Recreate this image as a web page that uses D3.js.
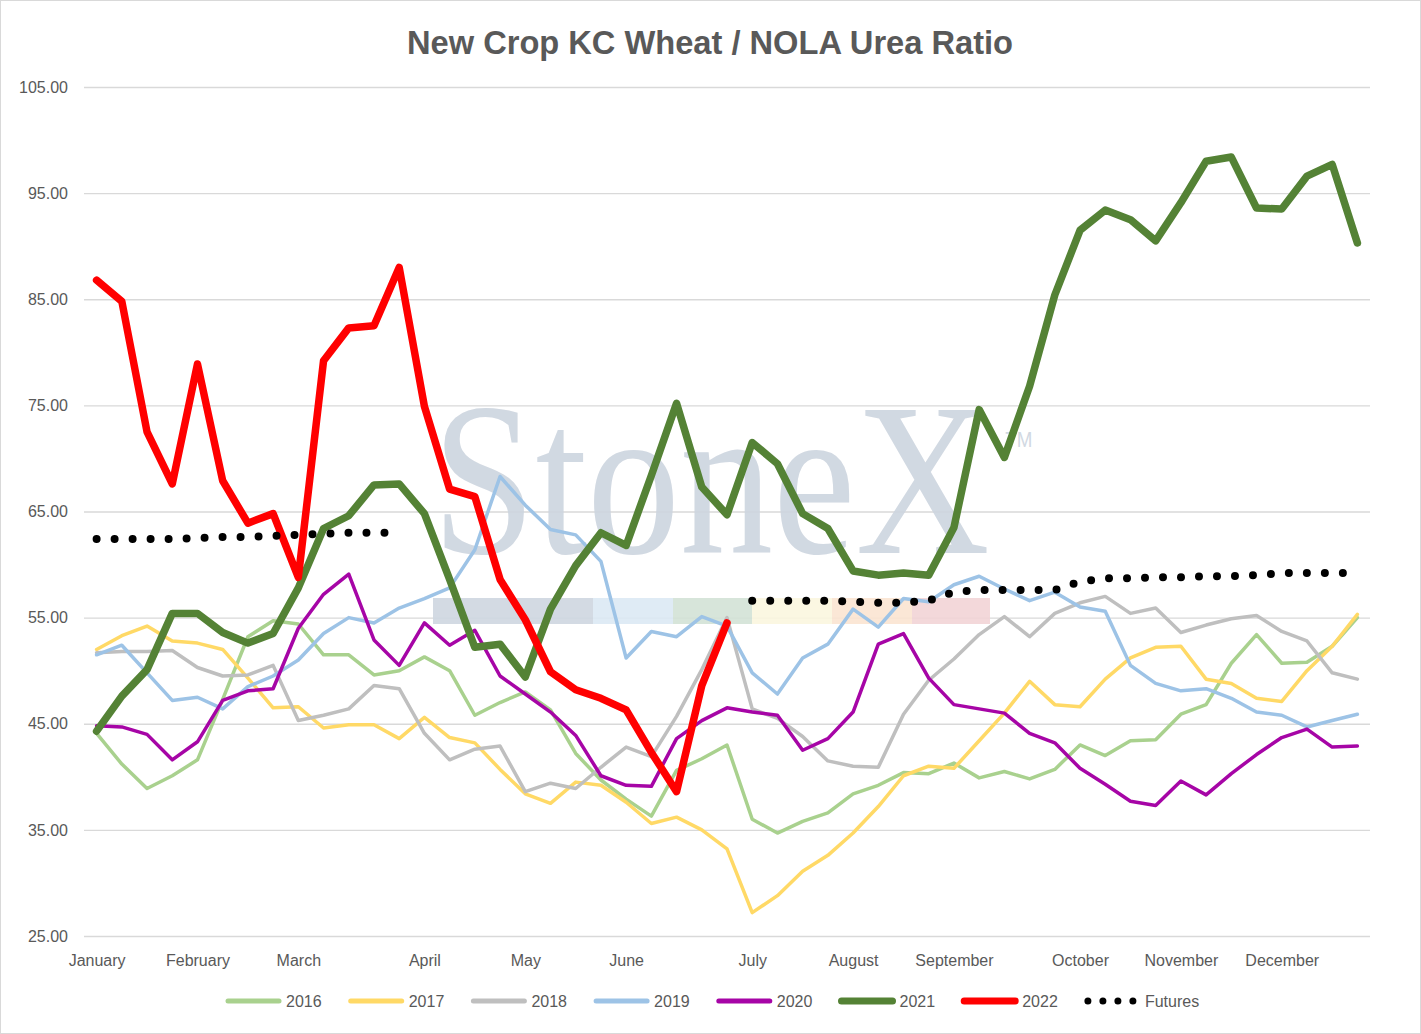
<!DOCTYPE html>
<html>
<head>
<meta charset="utf-8">
<script src="https://cdn.jsdelivr.net/npm/d3@7/dist/d3.min.js"></script>
<style>
  html, body { margin: 0; padding: 0; background: #fff; }
  svg { display: block; }
</style>
</head>
<body>
<svg id="chart" width="1421" height="1034"></svg>
<script>
// ---------- DATA ----------
const weekLabels = [
  "January","","","","February","","","","March","","","","","April","","","",
  "May","","","","June","","","","","July","","","","August","","","",
  "September","","","","","October","","","","November","","","","December","","",""
];

const s2016 = [44.1,41.2,38.9,40.1,41.6,47.3,53.2,54.7,54.4,51.5,51.5,49.6,50.0,51.3,50.0,45.8,47.0,48.0,46.3,42.2,39.7,37.9,36.3,40.6,41.7,43.0,36.0,34.7,35.8,36.6,38.4,39.2,40.4,40.3,41.3,39.9,40.5,39.8,40.7,43.0,42.0,43.4,43.5,45.9,46.8,50.7,53.4,50.7,50.8,52.3,55.0];
const s2017 = [52.0,53.3,54.2,52.8,52.6,52.0,49.3,46.5,46.6,44.6,44.9,44.9,43.6,45.6,43.7,43.2,40.7,38.4,37.5,39.5,39.2,37.6,35.6,36.2,35.0,33.2,27.2,28.8,31.1,32.6,34.7,37.2,40.1,41.0,40.8,43.4,46.0,49.0,46.8,46.6,49.2,51.2,52.2,52.3,49.2,48.8,47.4,47.1,50.0,52.3,55.3];
const s2018 = [51.7,51.8,51.8,51.9,50.3,49.5,49.6,50.5,45.3,45.8,46.4,48.6,48.3,44.1,41.6,42.6,42.9,38.6,39.4,38.9,40.9,42.8,41.9,45.7,50.1,55.0,46.4,45.5,43.8,41.5,41.0,40.9,45.9,49.1,51.1,53.4,55.1,53.2,55.4,56.4,57.0,55.4,55.9,53.6,54.3,54.9,55.2,53.7,52.8,49.8,49.2];
const s2019 = [51.5,52.4,49.8,47.2,47.5,46.4,48.5,49.5,51.0,53.5,55.0,54.5,55.9,56.8,57.8,61.4,68.3,65.6,63.3,62.8,60.3,51.2,53.7,53.2,55.1,54.2,49.8,47.8,51.2,52.5,55.8,54.1,56.8,56.5,58.1,58.9,57.7,56.6,57.4,56.0,55.6,50.5,48.8,48.1,48.3,47.4,46.1,45.8,44.7,45.3,45.9];
const s2020 = [44.8,44.7,44.0,41.6,43.3,47.2,48.1,48.3,54.0,57.2,59.1,52.9,50.5,54.5,52.4,53.8,49.5,47.8,46.1,43.9,40.1,39.2,39.1,43.6,45.3,46.5,46.1,45.8,42.5,43.6,46.1,52.5,53.5,49.3,46.8,46.4,46.0,44.1,43.2,40.8,39.3,37.7,37.3,39.6,38.3,40.3,42.1,43.7,44.5,42.8,42.9];
const s2021 = [44.3,47.6,50.1,55.4,55.4,53.6,52.6,53.5,57.8,63.4,64.6,67.5,67.6,64.8,58.6,52.2,52.5,49.4,55.8,59.9,63.0,61.8,68.4,75.2,67.3,64.7,71.5,69.5,64.8,63.4,59.4,59.0,59.2,59.0,63.5,74.6,70.1,76.8,85.4,91.5,93.4,92.5,90.5,94.1,98.0,98.4,93.6,93.5,96.6,97.7,90.3];
const s2022 = [86.8,84.8,72.5,67.6,78.9,67.9,63.9,64.8,58.8,79.2,82.3,82.5,88.0,74.9,67.1,66.4,58.6,54.8,49.9,48.2,47.4,46.3,42.3,38.6,48.6,54.5];
const sFutures = [62.4,62.4,62.4,62.4,62.5,62.6,62.6,62.7,62.8,62.9,63.0,63.0,63.0,
  null,null,null,null,null,null,null,null,null,null,null,null,null,
  56.6,56.6,56.6,56.6,56.5,56.4,56.4,56.6,57.4,57.6,57.6,57.6,57.6,58.4,58.7,58.7,58.8,58.8,58.9,58.9,59.0,59.2,59.2,59.2,59.2];

const yTicks = [25,35,45,55,65,75,85,95,105];
const seriesNames = ["2016","2017","2018","2019","2020","2021","2022","Futures"];
const seriesValues = [s2016,s2017,s2018,s2019,s2020,s2021,s2022,sFutures];
const seriesColors = ["#A9D18E","#FFD966","#BFBFBF","#9DC3E6","#A605A6","#548235","#FF0000","#000000"];
const seriesWidths = [3.5,3.5,3.5,3.5,3.5,7.5,7.5,8];
const watermarkBandColors = ["#CFD7E1","#DCE9F4","#D3E3D6","#FBF7DF","#FBE5D2","#F2D4D6"];

// ---------- LAYOUT ----------
const svg = d3.select("#chart");
const W = 1421, H = 1034;
const plot = { left: 84, right: 1370, top: 87, bottom: 936 };
const FONT = "'Liberation Sans', Arial, sans-serif";

svg.append("rect").attr("x",0.5).attr("y",0.5).attr("width",W-1).attr("height",H-1)
  .attr("fill","#fff").attr("stroke","#D9D9D9").attr("stroke-width",1);

const x = d3.scalePoint().domain(d3.range(weekLabels.length)).range([plot.left, plot.right]).padding(0.5);
const y = d3.scaleLinear().domain([25,105]).range([plot.bottom, plot.top]);

// gridlines
const grid = svg.append("g").attr("transform",`translate(${plot.left},0)`)
  .call(d3.axisLeft(y).tickValues(yTicks).tickSize(-(plot.right-plot.left)).tickFormat(""));
grid.select(".domain").remove();
grid.selectAll("line").attr("stroke","#D9D9D9").attr("stroke-width",1.3);

// y labels
const yAxis = svg.append("g").attr("transform",`translate(${plot.left},0)`)
  .call(d3.axisLeft(y).tickValues(yTicks).tickSize(0).tickPadding(16).tickFormat(d3.format(".2f")));
yAxis.select(".domain").remove();
yAxis.selectAll("text").attr("font-family",FONT).attr("font-size",16).attr("fill","#595959");

// x labels
const monthIdx = weekLabels.map((l,i)=>l?i:null).filter(v=>v!==null);
const xAxis = svg.append("g").attr("transform",`translate(0,${plot.bottom})`)
  .call(d3.axisBottom(x).tickValues(monthIdx).tickSize(0).tickPadding(19).tickFormat(i=>weekLabels[i]));
xAxis.select(".domain").remove();
xAxis.selectAll("text").attr("font-family",FONT).attr("font-size",16).attr("fill","#595959");

// ---------- WATERMARK ----------
const wm = svg.append("g").attr("opacity",0.9);
const bandEdges = [433,593,673,752,832,912,990];
watermarkBandColors.forEach((c,i)=>{
  wm.append("rect").attr("x",bandEdges[i]).attr("y",598).attr("width",bandEdges[i+1]-bandEdges[i]).attr("height",26)
    .attr("fill",c);
});
const wmText = wm.append("text").attr("transform","translate(432,553) scale(0.853,1)")
  .attr("font-family","'Liberation Serif','Times New Roman',serif").attr("fill","#CDD5DF");
wmText.append("tspan").attr("font-size",218).text("StoneX");
wmText.append("tspan").attr("font-size",22).attr("font-family",FONT).attr("dx",18).attr("dy",-106).text("TM");

// ---------- LINES ----------
const line = d3.line().defined(d=>d!=null).x((d,i)=>x(i)).y(d=>y(d));
seriesValues.forEach((vals,k)=>{
  const p = svg.append("path").datum(vals).attr("d",line)
    .attr("fill","none").attr("stroke",seriesColors[k]).attr("stroke-width",seriesWidths[k])
    .attr("stroke-linejoin","round").attr("stroke-linecap","round");
  if (seriesNames[k]==="Futures") p.attr("stroke-dasharray","0 18");
});

// ---------- TITLE ----------
svg.append("text").attr("x",710).attr("y",54).attr("text-anchor","middle")
  .attr("font-family",FONT).attr("font-weight","bold").attr("font-size",34).attr("fill","#595959")
  .attr("textLength",606).attr("lengthAdjust","spacingAndGlyphs")
  .text("New Crop KC Wheat / NOLA Urea Ratio");

// ---------- LEGEND ----------
const legend = svg.append("g").attr("transform","translate(226,1001)");
seriesNames.forEach((n,k)=>{
  const g = legend.append("g").attr("transform",`translate(${k*122.7},0)`);
  const l = g.append("line").attr("x1", k===7?3:2).attr("x2", k===7?50:53).attr("y1",0).attr("y2",0)
    .attr("stroke",seriesColors[k]).attr("stroke-width", k===7?7:(seriesWidths[k]>5?7:5))
    .attr("stroke-linecap","round");
  if (k===7) l.attr("stroke-dasharray","0 15");
  g.append("text").attr("x",60).attr("y",6).attr("font-family",FONT).attr("font-size",16)
    .attr("fill","#595959").text(n);
});
</script>
</body>
</html>
